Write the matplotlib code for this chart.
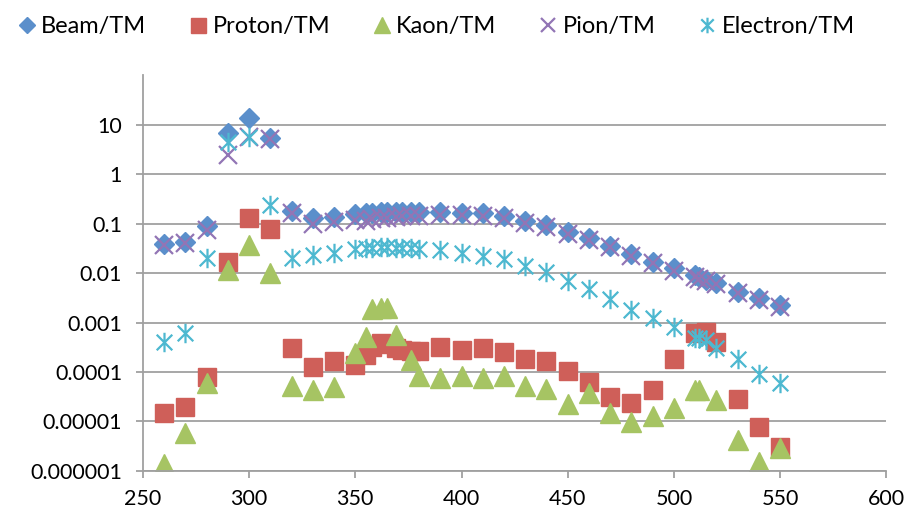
#ratios to TM vs energy, log scale scatter

#import libraries
import numpy as np
import matplotlib
matplotlib.use("Agg")
import matplotlib.pyplot as plt
from matplotlib.path import Path
from matplotlib.ticker import FixedLocator, NullLocator

nan = np.nan

#data
energy = [260, 270, 280, 290, 300, 310, 320, 330, 340, 350, 355, 358, 362, 365,
          369, 372, 376, 380, 390, 400, 410, 420, 430, 440, 450, 460, 470, 480,
          490, 500, 510, 512, 515, 520, 530, 540, 550]

beam = [0.039, 0.043, 0.088, 6.9, 13.5, 5.4, 0.18, 0.13, 0.135, 0.155, 0.16,
        0.165, 0.17, 0.17, 0.17, 0.17, 0.17, 0.17, 0.175, 0.165, 0.16, 0.145,
        0.115, 0.094, 0.068, 0.05, 0.036, 0.024, 0.017, 0.0125, 0.0092,
        0.0082, 0.0074, 0.0064, 0.0042, 0.0031, 0.0023]

proton = [0.0000147, 0.0000194, 0.00008, 0.017, 0.13, 0.079, 0.0003, 0.000126,
          0.000166, 0.00014, 0.00022, 0.00032, 0.00039, 0.00036, 0.0003,
          0.00028, 0.00026, 0.00026, 0.00032, 0.00028, 0.0003, 0.00025,
          0.00018, 0.000167, 0.000105, 0.000063, 0.000031, 0.000024, 0.000043,
          0.00018, 0.00061, nan, 0.00063, 0.00041, 0.000028, 0.0000077,
          0.000003]

kaon = [0.0000014, 0.0000059, 0.00006, 0.0115, 0.037, 0.01, 0.000053, 0.000044,
        0.00005, 0.00024, 0.00051, 0.0019, 0.002, 0.002, 0.00055, nan,
        0.000174, 0.000083, 0.000076, 0.000083, 0.000076, 0.000083, 0.0000525,
        0.0000455, 0.0000226, 0.0000375, 0.0000147, 0.0000097, 0.0000129,
        0.0000186, 0.000044, 0.000043, nan, 0.000027, 0.0000042, 0.0000015,
        0.0000029]

pion = [0.037, 0.04, 0.075, 2.4, 5.7, 5.0, 0.165, 0.1, 0.11, 0.12, 0.115, 0.125,
        0.13, 0.13, 0.135, 0.14, 0.14, 0.145, 0.15, 0.15, 0.14, 0.13, 0.105,
        0.085, 0.062, 0.046, 0.033, 0.022, 0.016, 0.011, 0.0085, 0.0077,
        0.0069, 0.0059, 0.004, 0.0029, 0.0021]

electron = [0.00041, 0.00062, 0.02, 4.5, 5.7, 0.24, 0.02, 0.023, 0.026, 0.03,
            0.032, 0.032, 0.033, 0.033, 0.032, 0.032, 0.032, 0.031, 0.029,
            0.025, 0.022, 0.019, 0.014, 0.0105, 0.0068, 0.0047, 0.003, 0.0018,
            0.00123, 0.00081, 0.00049, 0.00049, 0.00045, 0.0003, 0.00018,
            0.000091, 0.00006]

yticks = [1e-6, 1e-5, 1e-4, 1e-3, 1e-2, 1e-1, 1, 10]
ytick_labels = ["0.000001", "0.00001", "0.0001", "0.001", "0.01", "0.1", "1", "10"]
xticks = [250, 300, 350, 400, 450, 500, 550, 600]

#excel style asterisk: X with a vertical bar
star = Path([(-1, -1), (1, 1), (-1, 1), (1, -1), (0, -1.25), (0, 1.25)],
            [Path.MOVETO, Path.LINETO, Path.MOVETO, Path.LINETO,
             Path.MOVETO, Path.LINETO])

plt.rcParams["font.family"] = ["Lato", "DejaVu Sans"]

fig = plt.figure(figsize=(9.1, 5.26), dpi=100)
ax = fig.add_axes([0.157, 0.1046, 0.817, 0.7526])

ax.plot(energy, beam, ls="none", marker="D", ms=10.5, color="#5b8fcb",
        label="Beam/TM")
ax.plot(energy, proton, ls="none", marker="s", ms=13.5, color="#cf5f59",
        label="Proton/TM")
ax.plot(energy, kaon, ls="none", marker="^", ms=14, color="#a6c463",
        label="Kaon/TM")
ax.plot(energy, pion, ls="none", marker="x", ms=13, mew=1.6, color="#9275b5",
        label="Pion/TM")
ax.plot(energy, electron, ls="none", marker=star, ms=14, mew=1.6, mfc="none",
        color="#4db8d0", label="Electron/TM")

ax.set_yscale("log")
ax.set_ylim(1e-6, 100)
ax.set_xlim(250, 600)
ax.yaxis.set_major_locator(FixedLocator(yticks))
ax.yaxis.set_minor_locator(NullLocator())
ax.set_yticklabels(ytick_labels)
ax.set_xticks(xticks)

ax.grid(axis="y", color="#a0a0a0", lw=1.3)
ax.set_axisbelow(True)
for side in ["top", "right"]:
    ax.spines[side].set_visible(False)
for side in ["left", "bottom"]:
    ax.spines[side].set_color("#a0a0a0")
    ax.spines[side].set_linewidth(1.3)
ax.tick_params(axis="both", colors="#a0a0a0", width=1.3, length=5,
               labelcolor="black", labelsize=15.5)
ax.tick_params(axis="y", pad=10)
ax.tick_params(axis="x", pad=8)

fig.legend(loc="upper center", bbox_to_anchor=(0.478, 1.01), ncol=5,
           frameon=False, fontsize=17, handletextpad=0.1, columnspacing=1.7,
           markerscale=0.8, handlelength=1.0)

fig.savefig("out.png", dpi=100)
